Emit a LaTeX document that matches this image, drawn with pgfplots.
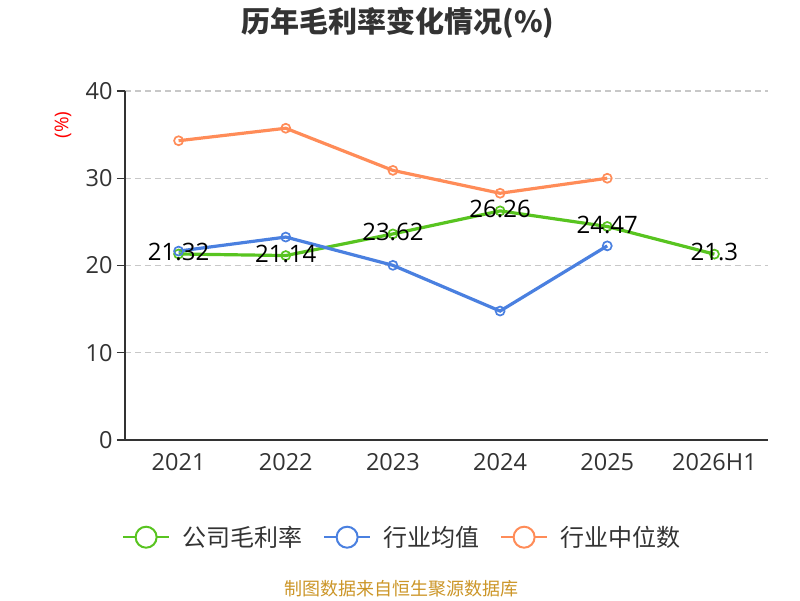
\documentclass[border=0pt]{standalone}
\usepackage{pgfplots}
\pgfplotsset{compat=1.18}
\usepackage{fontspec}
\setmainfont{Open Sans}
\newfontfamily\cjk{Noto Sans CJK SC}
\definecolor{cgreen}{RGB}{88,196,32}
\definecolor{cblue}{RGB}{74,128,224}
\definecolor{corange}{RGB}{255,140,88}
\definecolor{ctext}{RGB}{51,51,51}
\definecolor{cgrid}{RGB}{200,200,200}
\definecolor{cfoot}{RGB}{204,150,40}
\begin{document}
\begin{tikzpicture}[x=1pt,y=1pt]
\path[use as bounding box, fill=white] (0,0) rectangle (800,600);
\node[font=\cjk\fontsize{29}{32}\selectfont\bfseries, text=ctext] at (398,577) {历年毛利率变化情况(\%)};
\node[font=\fontsize{19}{21}\selectfont, text=red, rotate=90] at (63,475) {(\%)};
\node[font=\cjk\fontsize{18}{20}\selectfont, text=cfoot] at (401,11) {制图数据来自恒生聚源数据库};
\begin{axis}[
  at={(125pt,160pt)}, anchor=south west,
  scale only axis, width=643pt, height=349pt,
  xmin=-0.5, xmax=5.5, ymin=0, ymax=40,
  axis x line=bottom, axis y line=left,
  axis line style={draw=ctext, line width=1.4pt, -},
  xtick={0,1,2,3,4,5},
  xticklabels={2021,2022,2023,2024,2025,2026H1},
  x tick style={draw=none},
  extra x ticks={-0.5,0.5,1.5,2.5,3.5,4.5,5.5},
  extra x tick labels={},
  extra x tick style={tick style={draw=ctext, line width=1.4pt}, major tick length=9pt, tick align=outside, grid=none},
  ytick={0,10,20,30,40},
  y tick style={draw=ctext, line width=1.4pt},
  tick align=outside, major tick length=8pt,
  ymajorgrids,
  grid style={draw=cgrid, line width=1.2pt, dash pattern=on 6pt off 4pt},
  /pgf/number format/assume math mode=true,
  ticklabel style={font=\fontsize{23.5}{25}\selectfont, text=ctext},
  xticklabel style={yshift=-2pt},
  yticklabel style={xshift=-1pt},
  clip=false,
  legend style={at={(0.431,-0.2785)}, anchor=center, draw=none, fill=none,
    font=\cjk\fontsize{24}{26}\selectfont, text=ctext, legend columns=3,
    /tikz/every odd column/.append style={column sep=10pt},
    /tikz/every even column/.append style={column sep=19pt}},
]
\addplot[cgreen, line width=3.2pt, mark=o, mark size=4.5pt, mark options={fill=white, line width=1.7pt},
  nodes near coords, every node near coord/.append style={font=\fontsize{24}{26}\selectfont, text=black, anchor=center, yshift=2pt},
  legend image code/.code={\draw[cgreen, line width=2pt] (0pt,0pt) -- (46pt,0pt); \draw[cgreen, fill=white, line width=2pt] (23pt,0pt) circle (10.5pt);}]
  coordinates {(0,21.32) (1,21.14) (2,23.62) (3,26.26) (4,24.47) (5,21.3)};
\addlegendentry{公司毛利率}
\addplot[cblue, line width=3.2pt, mark=o, mark size=4.5pt, mark options={fill=white, line width=1.7pt},
  legend image code/.code={\draw[cblue, line width=2pt] (0pt,0pt) -- (46pt,0pt); \draw[cblue, fill=white, line width=2pt] (23pt,0pt) circle (10.5pt);}]
  coordinates {(0,21.65) (1,23.26) (2,20.02) (3,14.78) (4,22.25)};
\addlegendentry{行业均值}
\addplot[corange, line width=3.2pt, mark=o, mark size=4.5pt, mark options={fill=white, line width=1.7pt},
  legend image code/.code={\draw[corange, line width=2pt] (0pt,0pt) -- (46pt,0pt); \draw[corange, fill=white, line width=2pt] (23pt,0pt) circle (10.5pt);}]
  coordinates {(0,34.3) (1,35.73) (2,30.9) (3,28.28) (4,30.0)};
\addlegendentry{行业中位数}
\end{axis}
\end{tikzpicture}
\end{document}
